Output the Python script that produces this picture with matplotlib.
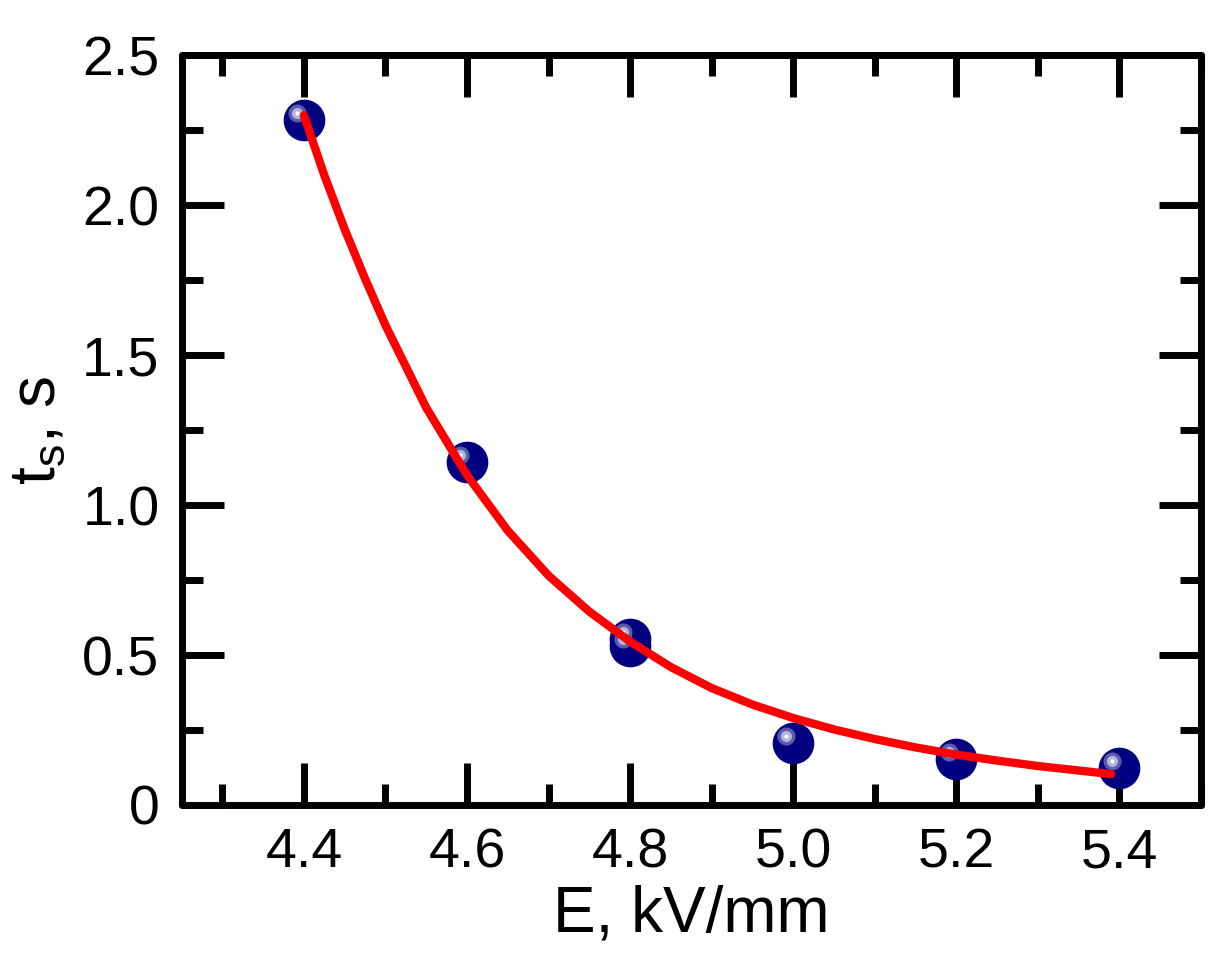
import matplotlib
matplotlib.use("Agg")
import matplotlib.pyplot as plt
import matplotlib.transforms as mtransforms
import numpy as np

# measured points
field = [4.4, 4.6, 4.8, 4.8, 5.0, 5.2, 5.4]
t_s = [2.283, 1.144, 0.555, 0.530, 0.207, 0.153, 0.123]

# fitted curve
fit_x = [4.40, 4.425, 4.45, 4.475, 4.50, 4.55, 4.60, 4.65, 4.70, 4.75, 4.80, 4.85, 4.90,
         4.95, 5.00, 5.05, 5.10, 5.15, 5.20, 5.25, 5.30, 5.35, 5.39]
fit_y = [2.30, 2.10, 1.92, 1.755, 1.60, 1.325, 1.10, 0.915, 0.765, 0.645, 0.545, 0.46, 0.39,
         0.335, 0.29, 0.252, 0.22, 0.192, 0.168, 0.148, 0.13, 0.115, 0.103]

x_ticks = [4.4, 4.6, 4.8, 5.0, 5.2, 5.4]
x_labels = ["4.4", "4.6", "4.8", "5.0", "5.2", "5.4"]
y_ticks = [0, 0.5, 1.0, 1.5, 2.0, 2.5]
y_labels = ["0", "0.5", "1.0", "1.5", "2.0", "2.5"]

plt.rcParams['font.family'] = ['Liberation Sans', 'DejaVu Sans']
plt.rcParams['mathtext.fontset'] = 'custom'
plt.rcParams['mathtext.rm'] = 'Liberation Sans'
plt.rcParams['mathtext.it'] = 'Liberation Sans:italic'

fig = plt.figure(figsize=(12.19, 9.71), dpi=100)
ax = fig.add_axes([0.149, 0.171, 0.836, 0.772])

ax.plot(fit_x, fit_y, color='#ff0000', lw=6, solid_capstyle='round',
        solid_joinstyle='round', zorder=3)

ax.plot(field, t_s, 'o', ms=29, color='#000080', mec='#000080', zorder=2)
hl = mtransforms.offset_copy(ax.transData, fig=fig, x=-5, y=5, units='points')
ax.plot(field, t_s, 'o', ms=13, color='#5c5caa', mec='none', transform=hl, zorder=2.1)
ax.plot(field, t_s, 'o', ms=8, color='#b4b4e0', mec='none', transform=hl, zorder=2.2)
ax.plot(field, t_s, 'o', ms=3, color='white', mec='none', transform=hl, zorder=2.3)

ax.set_xlim(4.25, 5.5)
ax.set_ylim(0, 2.5)
ax.set_xticks(x_ticks)
ax.set_xticklabels(x_labels)
ax.set_xticks(np.arange(4.3, 5.5, 0.2), minor=True)
ax.set_yticks(y_ticks)
ax.set_yticklabels(y_labels)
ax.set_yticks([0.25, 0.75, 1.25, 1.75, 2.25], minor=True)

for s in ax.spines.values():
    s.set_linewidth(5)
    s.set_capstyle('round')
ax.tick_params(which='both', direction='in', top=True, right=True, width=5,
               labelsize=40, pad=16)
ax.tick_params(which='major', length=30)
ax.tick_params(which='minor', length=15)

ax.set_xlabel("E, kV/mm", fontsize=46, labelpad=4)
ax.set_ylabel("t$_{\\mathrm{s}}$, s", fontsize=46, labelpad=10)

fig.savefig("out.png", dpi=100)
